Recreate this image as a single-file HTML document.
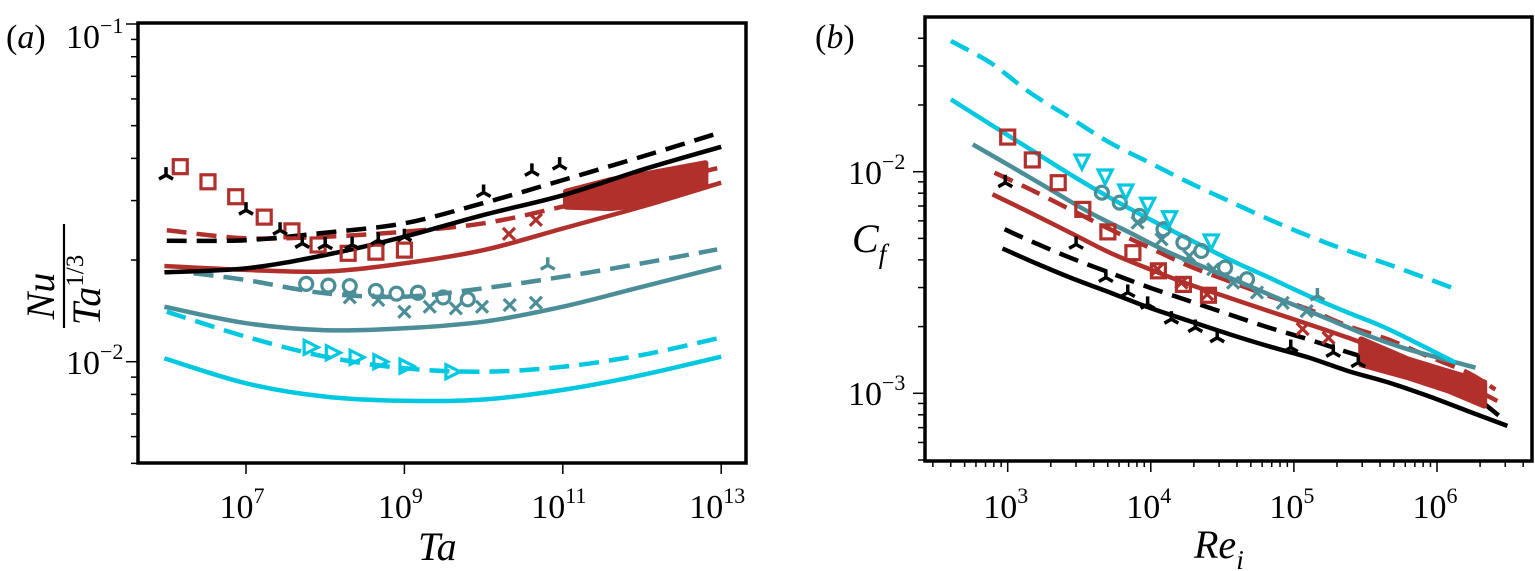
<!DOCTYPE html>
<html><head><meta charset="utf-8"><style>
body{margin:0;background:#fff}
svg{display:block}
text{font-family:"Liberation Serif",serif;fill:#000}
</style></head><body>
<svg id="fig" width="1535" height="571" viewBox="0 0 1535 571"></svg>
<script>
// ---------- Panel (a) data (log10 Ta, Nu/Ta^(1/3)) ----------
const aBlackDashX=[6,7,8,9,10,11,12,12.9];
const aBlackDashY=[0.0228,0.0229,0.0241,0.0257,0.0295,0.0345,0.0405,0.047];
const aBlackSolX=[5.97,7,8,9,10,11,12,13];
const aBlackSolY=[0.0184,0.0189,0.0207,0.02345,0.0272,0.0311,0.037,0.0433];
const aRedDashX=[6,7,8,9,10,11,12,12.95];
const aRedDashY=[0.0245,0.0232,0.02345,0.02427,0.0257,0.0288,0.033,0.0374];
const aRedSolX=[5.97,7,8,9,10,11,12,13];
const aRedSolY=[0.0192,0.0187,0.0185,0.01956,0.0214,0.0248,0.0288,0.0339];
const aTealDashX=[6.34,7,8,9,10,11,12,12.95];
const aTealDashY=[0.01827,0.01745,0.01594,0.01558,0.0165,0.01785,0.01956,0.0215];
const aTealSolX=[5.97,7,8,9,10,11,12,13];
const aTealSolY=[0.01455,0.013,0.0124,0.01256,0.01314,0.01455,0.01667,0.0191];
const aCyanDashX=[6,7,8,9,10,11,12,12.95];
const aCyanDashY=[0.01406,0.01186,0.01035,0.00956,0.00934,0.00966,0.01047,0.01172];
const aCyanSolX=[5.97,7,8,9,10,11,12,13];
const aCyanSolY=[0.01023,0.00863,0.00788,0.00766,0.00773,0.00825,0.00913,0.01035];
const aSqX=[6.17,6.52,6.87,7.23,7.58,7.91,8.29,8.64,9.0];
const aSqY=[0.0378,0.0341,0.0308,0.0268,0.0244,0.02216,0.02094,0.0211,0.0214];
const aTriX=[5.99,7,7.43,7.71,8,8.34,8.67,9,10.0,10.61,10.96];
const aTriY=[0.0357,0.0281,0.0245,0.0224,0.0222,0.0222,0.0229,0.02345,0.0317,0.0366,0.0382];
const aCircX=[7.76,8.04,8.31,8.64,8.9,9.17,9.49,9.8];
const aCircY=[0.017,0.0168,0.01675,0.0162,0.0159,0.016,0.0155,0.0153];
const aTealXX=[8.31,8.67,9.0,9.32,9.65,9.98,10.33,10.66];
const aTealXY=[0.0155,0.01523,0.01406,0.01455,0.01439,0.01455,0.01472,0.01495];
const aTealTriX=[10.81], aTealTriY=[0.0193];
const aRedXX=[10.32,10.66], aRedXY=[0.0239,0.0263];
const aRTriX=[7.81,8.09,8.39,8.69,9.02,9.6];
const aRTriY=[0.01103,0.01063,0.0103,0.01,0.0097,0.00934];
const aCloudX=[11.04,11.6,12.1,12.8];
const aCloudHi=[0.0319,0.0345,0.0361,0.0387];
const aCloudLo=[0.0288,0.0285,0.0294,0.033];
const aXTicks=[7,9,11,13];
// ---------- Panel (b) data (log10 Re_i, Cf) ----------
const bCyanDashX=[2.603,2.88,3.158,3.436,3.714,3.992,4.269,4.547,4.825,5.103,5.38,5.658,6.103];
const bCyanDashY=[0.0389,0.031,0.0227,0.01752,0.01351,0.01098,0.00892,0.00737,0.0061,0.00513,0.00439,0.00382,0.003];
const bCyanSolX=[2.603,2.88,3.158,3.436,3.714,3.992,4.269,4.547,4.825,5.103,5.38,5.658,6.131];
const bCyanSolY=[0.0212,0.01635,0.01262,0.00973,0.00763,0.0061,0.00495,0.00402,0.00333,0.00275,0.00231,0.00195,0.001375];
const bTealSolX=[2.756,3.019,3.297,3.575,3.853,4.131,4.408,4.686,4.964,5.242,5.519,5.797,6.269];
const bTealSolY=[0.01328,0.0106,0.00832,0.00653,0.00531,0.00431,0.00363,0.00305,0.00256,0.00216,0.00182,0.00158,0.001305];
const bRedDashX=[2.908,3.158,3.436,3.714,3.992,4.269,4.547,4.825,5.103,5.38,5.658,5.936,6.214,6.408];
const bRedDashY=[0.0099,0.00832,0.00676,0.0055,0.00454,0.00375,0.00321,0.00275,0.00239,0.00201,0.00175,0.00147,0.00124,0.00104];
const bRedSolX=[2.894,3.158,3.436,3.714,3.992,4.269,4.547,4.825,5.103,5.38,5.658,5.936,6.214,6.422];
const bRedSolY=[0.00791,0.00653,0.00531,0.00431,0.00363,0.0031,0.0027,0.00235,0.00205,0.00178,0.00153,0.00128,0.00108,0.000923];
const bBlackDashX=[2.978,3.158,3.436,3.714,3.992,4.269,4.547,4.825,5.103,5.38,5.658,5.936,6.214,6.436];
const bBlackDashY=[0.0055,0.00487,0.00409,0.0035,0.003,0.00261,0.00227,0.00198,0.00175,0.00153,0.00135,0.0012,0.00101,0.00079];
const bBlackSolX=[2.964,3.158,3.436,3.714,3.992,4.269,4.547,4.825,5.103,5.38,5.658,5.936,6.214,6.492];
const bBlackSolY=[0.0045,0.00396,0.00333,0.00285,0.00243,0.00212,0.00185,0.00163,0.00145,0.00126,0.00112,0.000973,0.000832,0.000713];
const bSqX=[3.0,3.172,3.353,3.525,3.7,3.875,4.053,4.228,4.403];
const bSqY=[0.01433,0.0113,0.00892,0.00676,0.00535,0.00431,0.00357,0.0031,0.00277];
const bTriX=[2.983,3.478,3.686,3.839,3.978,4.144,4.311,4.464,4.978,5.275,5.45];
const bTriY=[0.00892,0.0047,0.00333,0.00285,0.00252,0.00216,0.00198,0.00178,0.00161,0.00153,0.001375];
const bDTriX=[3.519,3.681,3.825,3.978,4.131,4.422];
const bDTriY=[0.01117,0.00956,0.00818,0.00713,0.0062,0.00487];
const bCircX=[3.658,3.783,3.922,4.089,4.228,4.353,4.519,4.672];
const bCircY=[0.00804,0.00725,0.00631,0.0055,0.00479,0.00439,0.00369,0.00327];
const bTealXX=[3.908,4.075,4.269,4.436,4.575,4.742,4.922,5.089];
const bTealXY=[0.00589,0.00495,0.00416,0.00363,0.00316,0.00285,0.00256,0.00235];
const bTealTriX=[5.164], bTealTriY=[0.00275];
const bRedXX=[4.047,4.214,4.394,5.061,5.242];
const bRedXY=[0.00363,0.00316,0.0028,0.00195,0.00178];
const bCloudX=[5.47,5.8,6.08,6.33];
const bCloudHi=[0.00175,0.00142,0.00125,0.00112];
const bCloudLo=[0.00135,0.00118,0.00103,0.00088];
const bXTicks=[3,4,5,6];

const RED="#b2302b",TEAL="#4b8e98",CYAN="#00c8e0",BLK="#000";
const svg=document.getElementById('fig');
const NS="http://www.w3.org/2000/svg";
function mk(tag,attrs,parent){const e=document.createElementNS(NS,tag);for(const k in attrs)e.setAttribute(k,attrs[k]);(parent||svg).appendChild(e);return e;}

const ax={x:v=>246+(v-7)*79.2, y:v=>361.7-(Math.log10(v)+2)*337.7};
const bx={x:v=>1007.7+(v-3)*143.1, y:v=>171.7-(Math.log10(v)+2)*221.6};

function smoothPath(P){
  let d='M'+P[0][0].toFixed(1)+' '+P[0][1].toFixed(1);
  for(let i=0;i<P.length-1;i++){
    const p0=P[i-1]||P[i],p1=P[i],p2=P[i+1],p3=P[i+2]||P[i+1];
    const c1=[p1[0]+(p2[0]-p0[0])/6,p1[1]+(p2[1]-p0[1])/6];
    const c2=[p2[0]-(p3[0]-p1[0])/6,p2[1]-(p3[1]-p1[1])/6];
    d+=` C${c1[0].toFixed(1)} ${c1[1].toFixed(1)} ${c2[0].toFixed(1)} ${c2[1].toFixed(1)} ${p2[0].toFixed(1)} ${p2[1].toFixed(1)}`;
  }
  return d;
}
function line(A,X,Y,color,dash,w,name){
  const P=X.map((x,i)=>[A.x(x),A.y(Y[i])]);
  const p=mk('path',{d:smoothPath(P),fill:'none',stroke:color,'stroke-width':w,'stroke-dasharray':dash?'20 10':'none'});
  
  
}
function band(A,X,Hi,Lo,name){
  let d=X.map((x,i)=>(i?'L':'M')+A.x(x).toFixed(1)+' '+A.y(Hi[i]).toFixed(1)).join(' ');
  for(let i=X.length-1;i>=0;i--)d+=' L'+A.x(X[i]).toFixed(1)+' '+A.y(Lo[i]).toFixed(1);
  const p=mk('path',{d:d+' Z',fill:RED,stroke:RED,'stroke-width':6,'stroke-linejoin':'round'});
  
  
}
function markers(A,X,Y,type,color,name){
  const g=mk('g',{stroke:color,fill:'none','stroke-width':3.2});
  
  
  X.forEach((x,i)=>{
    const cx=A.x(x),cy=A.y(Y[i]);let e;
    if(type==='sq')e=mk('rect',{x:cx-7,y:cy-7,width:14,height:14},g);
    else if(type==='circ')e=mk('circle',{cx:cx,cy:cy,r:6.5},g);
    else if(type==='x')e=mk('path',{d:`M${cx-6} ${cy-6}L${cx+6} ${cy+6}M${cx+6} ${cy-6}L${cx-6} ${cy+6}`},g);
    else if(type==='rtri')e=mk('path',{d:`M${cx-6} ${cy-7}L${cx+8} ${cy}L${cx-6} ${cy+7}Z`},g);
    else if(type==='dtri')e=mk('path',{d:`M${cx-7} ${cy-6}L${cx+7} ${cy-6}L${cx} ${cy+8}Z`},g);
    else if(type==='tri')e=mk('path',{d:`M${cx} ${cy}L${cx} ${cy-8}M${cx} ${cy}L${cx-7} ${cy+4}M${cx} ${cy}L${cx+7} ${cy+4}`,'stroke-width':3.5},g);
    
    
  });
}
function txt(x,y,s,size,opts){const t=mk('text',Object.assign({x:x,y:y,'font-size':size},opts||{}));t.innerHTML=s;return t;}

// ---------- Panel a ----------
for(let e=-3;e<=-1;e++)for(let m=1;m<10;m++){const v=m*Math.pow(10,e);if(v<0.00495||v>0.1001)continue;const y=ax.y(v);
  mk('line',{x1:m===1?126:131,x2:138,y1:y,y2:y,stroke:'#000','stroke-width':1.5});}
aXTicks.forEach(t=>{const x=ax.x(t);mk('line',{x1:x,x2:x,y1:463,y2:474,stroke:'#000','stroke-width':1.5});
  const tl=txt(x-4,518,'10<tspan dy="-15" font-size="22">'+t+'</tspan>',34,{'text-anchor':'middle'});
  });
txt(66,48,'10<tspan dy="-15" font-size="22">−1</tspan>',34);
txt(66,374,'10<tspan dy="-15" font-size="22">−2</tspan>',34);
txt(6,48,'(<tspan font-style="italic">a</tspan>)',34);
const yl=mk('g',{transform:'translate(62,276) rotate(-90)'});
mk('line',{x1:-52,x2:52,y1:2,y2:2,stroke:'#000','stroke-width':2.2},yl);
const n1=mk('text',{x:-20,y:-8,'font-size':40,'font-style':'italic','text-anchor':'middle'},yl);n1.textContent='Nu';
const n2=mk('text',{x:-14,y:38,'font-size':40,'font-style':'italic','text-anchor':'middle'},yl);n2.innerHTML='Ta<tspan dy="-17" font-size="25" font-style="normal">1/3</tspan>';
const xla=txt(418,560,'Ta',40,{'font-style':'italic'});

line(ax,aCyanSolX,aCyanSolY,CYAN,false,4.5,'a-cyan-solid');
line(ax,aCyanDashX,aCyanDashY,CYAN,true,4.5,'a-cyan-dashed');
line(ax,aTealSolX,aTealSolY,TEAL,false,4.5,'a-teal-solid');
line(ax,aTealDashX,aTealDashY,TEAL,true,4.5,'a-teal-dashed');
line(ax,aRedSolX,aRedSolY,RED,false,4.5,'a-red-solid');
line(ax,aRedDashX,aRedDashY,RED,true,4.5,'a-red-dashed');
band(ax,aCloudX,aCloudHi,aCloudLo,'a-red-cloud');
line(ax,aBlackSolX,aBlackSolY,BLK,false,4.5,'a-black-solid');
line(ax,aBlackDashX,aBlackDashY,BLK,true,4.5,'a-black-dashed');
markers(ax,aSqX,aSqY,'sq',RED,'a-red-squares');
markers(ax,aRedXX,aRedXY,'x',RED,'a-red-crosses');
markers(ax,aTriX,aTriY,'tri',BLK,'a-black-tris');
markers(ax,aCircX,aCircY,'circ',TEAL,'a-teal-circles');
markers(ax,aTealXX,aTealXY,'x',TEAL,'a-teal-crosses');
markers(ax,aTealTriX,aTealTriY,'tri',TEAL,'a-teal-tri');
markers(ax,aRTriX,aRTriY,'rtri',CYAN,'a-cyan-triangles');
const fa=mk('rect',{x:138,y:23,width:608,height:440,fill:'none',stroke:'#000','stroke-width':3.5});


// ---------- Panel b ----------
for(let e=-4;e<=-1;e++)for(let m=1;m<10;m++){const v=m*Math.pow(10,e);const y=bx.y(v);if(y<17||y>461)continue;
  mk('line',{x1:m===1?913:918,x2:925,y1:y,y2:y,stroke:'#000','stroke-width':1.5});}
for(let e=2;e<=6;e++)for(let m=1;m<10;m++){const x=bx.x(e+Math.log10(m));if(x<925||x>1532)continue;
  mk('line',{x1:x,x2:x,y1:461,y2:m===1?472:467,stroke:'#000','stroke-width':1.5});}
bXTicks.forEach(t=>{const x=bx.x(t);const tl=txt(x-2,518,'10<tspan dy="-15" font-size="22">'+t+'</tspan>',34,{'text-anchor':'middle'});
  });
txt(848,184,'10<tspan dy="-15" font-size="22">−2</tspan>',34);
txt(848,405,'10<tspan dy="-15" font-size="22">−3</tspan>',34);
txt(815,48,'(<tspan font-style="italic">b</tspan>)',34);
const ylb=txt(852,252,'C<tspan dy="11" font-size="27">f</tspan>',40,{'font-style':'italic'});
const xlb=txt(1194,558,'Re<tspan dy="11" font-size="27">i</tspan>',40,{'font-style':'italic'});

line(bx,bCyanDashX,bCyanDashY,CYAN,true,4.5,'b-cyan-dashed');
line(bx,bBlackSolX,bBlackSolY,BLK,false,4.5,'b-black-solid');
line(bx,bBlackDashX,bBlackDashY,BLK,true,4.5,'b-black-dashed');
line(bx,bRedSolX,bRedSolY,RED,false,4.5,'b-red-solid');
line(bx,bRedDashX,bRedDashY,RED,true,4.5,'b-red-dashed');
line(bx,bTealSolX,bTealSolY,TEAL,false,4.5,'b-teal-solid');
line(bx,bCyanSolX,bCyanSolY,CYAN,false,4.5,'b-cyan-solid');
band(bx,bCloudX,bCloudHi,bCloudLo,'b-red-cloud');
markers(bx,bSqX,bSqY,'sq',RED,'b-red-squares');
markers(bx,bRedXX,bRedXY,'x',RED,'b-red-crosses');
markers(bx,bTriX,bTriY,'tri',BLK,'b-black-tris');
markers(bx,bCircX,bCircY,'circ',TEAL,'b-teal-circles');
markers(bx,bTealXX,bTealXY,'x',TEAL,'b-teal-crosses');
markers(bx,bTealTriX,bTealTriY,'tri',TEAL,'b-teal-tri');
markers(bx,bDTriX,bDTriY,'dtri',CYAN,'b-cyan-triangles');
const fb=mk('rect',{x:925,y:17,width:607,height:444,fill:'none',stroke:'#000','stroke-width':3.5});

</script>
</body></html>
